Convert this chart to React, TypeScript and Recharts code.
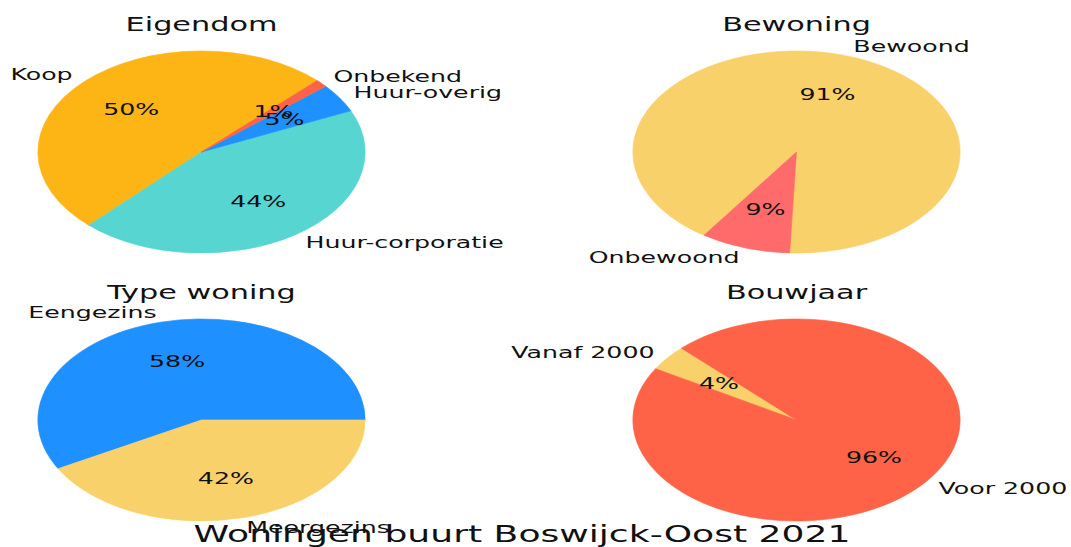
import React from 'react'
import { PieChart, Pie, Cell } from 'recharts'

// stretch of the reference image: pies are stretched more than the text
const SX = 1.62
const TEXT_SX = 1.53
const K = TEXT_SX / SX
const W = 1071 / SX
const H = 547
const R = 101
const RADIAN = Math.PI / 180
const FONT = '"DejaVu Sans", Verdana, sans-serif'
const INK = '#111'

const eigendomNames = ['Koop', 'Huur-corporatie', 'Huur-overig', 'Onbekend']
const eigendomValues = [50.4, 43.8, 4.6, 1.2]
const eigendomColors = ['#FDB515', '#57D5D0', '#1E90FF', '#FF6347']

const bewoningNames = ['Bewoond', 'Onbewoond']
const bewoningValues = [91.1, 8.9]
const bewoningColors = ['#F9D16B', '#FF6B6B']

const typeNames = ['Eengezins', 'Meergezins']
const typeValues = [58, 42]
const typeColors = ['#1E90FF', '#F9D16B']

const bouwjaarNames = ['Vanaf 2000', 'Voor 2000']
const bouwjaarValues = [4.1, 95.9]
const bouwjaarColors = ['#F9D16B', '#FF6347']

const toData = (names: string[], values: number[]) =>
  names.map((name, i) => ({ name, value: values[i] }))

const col1 = 201.5 / SX
const col2 = 796.5 / SX
const row1 = 152
const row2 = 420

const pies = [
  { title: 'Eigendom', data: toData(eigendomNames, eigendomValues), colors: eigendomColors, cx: col1, cy: row1, start: 45, titleY: 30.7 },
  { title: 'Bewoning', data: toData(bewoningNames, bewoningValues), colors: bewoningColors, cx: col2, cy: row1, start: 267.6, titleY: 30.7 },
  { title: 'Type woning', data: toData(typeNames, typeValues), colors: typeColors, cx: col1, cy: row2, start: 0, titleY: 298.5 },
  { title: 'Bouwjaar', data: toData(bouwjaarNames, bouwjaarValues), colors: bouwjaarColors, cx: col2, cy: row2, start: 134.7, titleY: 298.5 }
]

const renderLabel = (props: any) => {
  const { cx, cy, midAngle, outerRadius, percent } = props
  const name = props.name ?? props.payload?.name
  const cos = Math.cos(-midAngle * RADIAN)
  const sin = Math.sin(-midAngle * RADIAN)
  const ox = cx + outerRadius * 1.1 * cos
  const oy = cy + outerRadius * 1.1 * sin
  const ix = cx + outerRadius * 0.6 * cos
  const iy = cy + outerRadius * 0.6 * sin
  return (
    <g>
      <text
        transform={`translate(${ox},${oy}) scale(${K},1)`}
        textAnchor={cos >= 0 ? 'start' : 'end'}
        dominantBaseline="central"
        fontFamily={FONT}
        fontSize={16.5}
        fill={INK}
      >
        {name}
      </text>
      <text
        transform={`translate(${ix},${iy}) scale(${K},1)`}
        textAnchor="middle"
        dominantBaseline="central"
        fontFamily={FONT}
        fontSize={16.5}
        fill={INK}
      >
        {`${Math.round(percent * 100)}%`}
      </text>
    </g>
  )
}

export default function App() {
  return (
    <div style={{ position: 'absolute', left: 0, top: 0, width: 1071, height: H, background: '#fff', overflow: 'hidden' }}>
      <div style={{ position: 'absolute', left: 0, top: 0, width: W, height: H, transform: `scaleX(${SX})`, transformOrigin: '0 0' }}>
        <PieChart
          width={W}
          height={H}
          margin={{ top: 0, right: 0, bottom: 0, left: 0 }}
          style={{ position: 'absolute', left: 0, top: 0 }}
        >
          {pies.map((p) => (
            <Pie
              key={p.title}
              data={p.data}
              dataKey="value"
              nameKey="name"
              cx={p.cx}
              cy={p.cy}
              outerRadius={R}
              startAngle={p.start}
              endAngle={p.start + 360}
              label={renderLabel}
              labelLine={false}
              isAnimationActive={false}
            >
              {p.data.map((d, i) => (
                <Cell key={d.name} fill={p.colors[i]} stroke={p.colors[i]} strokeWidth={0.5} />
              ))}
            </Pie>
          ))}
        </PieChart>
        <svg width={W} height={H} style={{ position: 'absolute', left: 0, top: 0, pointerEvents: 'none' }}>
          {pies.map((p) => (
            <text
              key={p.title}
              transform={`translate(${p.cx},${p.titleY}) scale(${K},1)`}
              textAnchor="middle"
              fontFamily={FONT}
              fontSize={19.8}
              fill={INK}
            >
              {p.title}
            </text>
          ))}
          <text
            transform={`translate(${522 / SX},542) scale(${K},1)`}
            textAnchor="middle"
            fontFamily={FONT}
            fontSize={23.6}
            fill={INK}
          >
            Woningen buurt Boswijck-Oost 2021
          </text>
        </svg>
      </div>
    </div>
  )
}
